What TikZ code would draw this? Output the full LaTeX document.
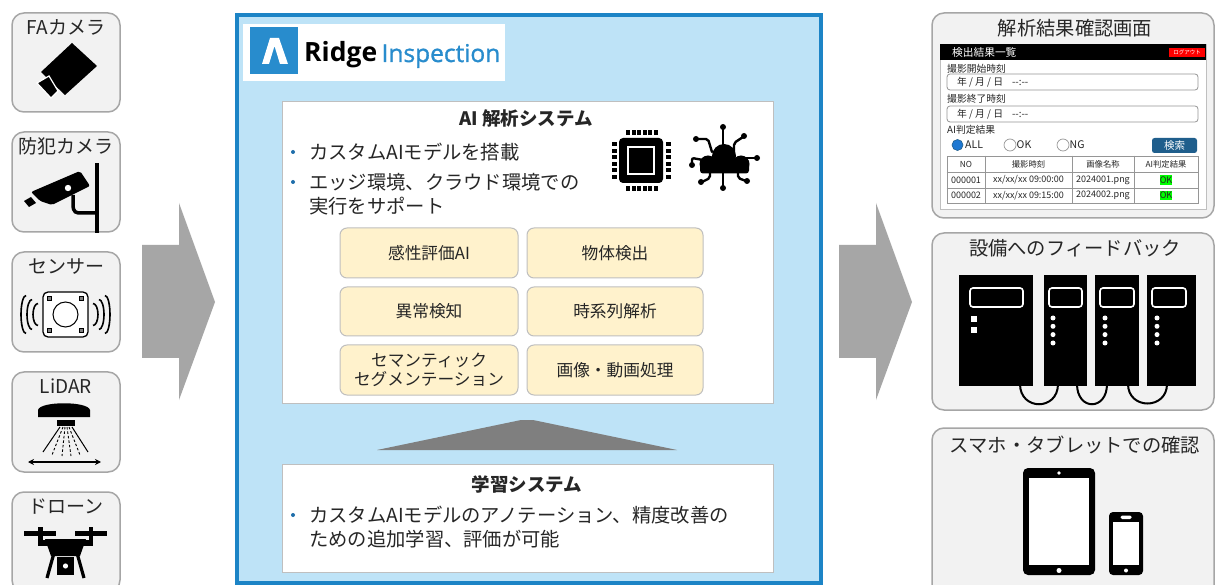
\documentclass[tikz,border=0pt]{standalone}
\usepackage{fontspec}
\setmainfont{Noto Sans CJK JP}
\newfontfamily\logofont{Open Sans}
\newfontfamily\logolight{Open Sans}[FakeBold=1.2]
\usetikzlibrary{fit,calc,arrows.meta}

\definecolor{panelblue}{RGB}{190,227,247}
\definecolor{panelborder}{RGB}{28,132,198}
\definecolor{boxgrey}{RGB}{242,242,242}
\definecolor{boxline}{RGB}{166,166,166}
\definecolor{arrowgrey}{RGB}{166,166,166}
\definecolor{trigrey}{RGB}{127,127,127}
\definecolor{cream}{RGB}{255,242,204}
\definecolor{creamline}{RGB}{191,191,191}
\definecolor{sheetline}{RGB}{191,191,191}
\definecolor{logoblue}{RGB}{40,140,205}
\definecolor{txt}{RGB}{38,38,38}
\definecolor{bulletblue}{RGB}{30,110,170}
\definecolor{btnblue}{RGB}{31,94,140}
\definecolor{radioblue}{RGB}{30,120,210}
\definecolor{tblline}{RGB}{150,150,150}
\definecolor{okgreen}{RGB}{0,255,0}

\tikzset{
  every node/.style={inner sep=0pt, text=txt},
  card/.style={draw=boxline, line width=1.5pt, fill=boxgrey, rounded corners=12pt, inner sep=0pt},
  cardtitle/.style={font=\fontsize{19}{22}\selectfont},
  restitle/.style={font=\fontsize{19.3}{23}\selectfont},
  sheet/.style={draw=sheetline, line width=0.8pt, fill=white, inner sep=0pt},
  heading/.style={font=\bfseries\fontsize{18.5}{21}\selectfont},
  bulletdot/.style={circle, fill=bulletblue, minimum size=4pt, inner sep=0pt},
  bullettext/.style={anchor=west, font=\fontsize{19.3}{23}\selectfont},
  method/.style={draw=creamline, line width=1pt, fill=cream, rounded corners=7pt, inner sep=0pt},
  methodtext/.style={align=center, text=black!85, font=\fontsize{16.7}{19}\selectfont},
  bigarrow/.style={fill=arrowgrey},
  small/.style={anchor=west, font=\fontsize{9.8}{11}\selectfont},
  field/.style={draw=tblline, line width=0.8pt, fill=white, rounded corners=3pt, inner sep=0pt},
  cell/.style={font=\fontsize{9}{10}\selectfont},
  headcell/.style={font=\fontsize{8.3}{10}\selectfont},
  device/.style={fill=black, inner sep=0pt},
}

\begin{document}
\begin{tikzpicture}[x=1pt,y=-1pt]
\useasboundingbox (0,0) rectangle (1216,585);
\fill[white] (0,0) rectangle (1216,585);

% ---------- input devices ----------
\node[card, fit={(12,13) (120,112)}] (fa) {};
\node[card, fit={(12,132) (120,232)}] (cctv) {};
\node[card, fit={(12,252) (120,352)}] (sensor) {};
\node[card, fit={(12,372) (120,472)}] (lidar) {};
\node[card, fit={(12,492) (120,592)}] (drone) {};

\node[cardtitle] (fa-t) at ($(fa.north)+(0,15)$) {FAカメラ};
\node[cardtitle] (cctv-t) at ($(cctv.north)+(0,15)$) {防犯カメラ};
\node[cardtitle] (sensor-t) at ($(sensor.north)+(0,15)$) {センサー};
\node[cardtitle] (lidar-t) at ($(lidar.north)+(0,15)$) {LiDAR};
\node[cardtitle] (drone-t) at ($(drone.north)+(0,15)$) {ドローン};

% FA camera
\fill[black] (72,43) -- (97,66) -- (65,95) -- (41,72) -- cycle;
\filldraw[fill=black, draw=white, line width=1.2pt] (37,83) -- (49,76) -- (58,91) -- (51,98) -- cycle;

% security camera
\fill[black] (95,163) rectangle (99,233);
\draw[line width=3.5pt] (73,195) -- (73,204) .. controls (73,213) and (76,213) .. (82,213) -- (96,213);
\fill[black, rounded corners=2pt] (31,192) -- (80,171) -- (90,186) -- (52,205) -- (40,201) -- cycle;
\fill[white] (68,188) circle (3.2);
\fill[black] (24,201) -- (31,197) -- (36,203) -- (29,207) -- cycle;

% sensor
\filldraw[fill=white, draw=black, line width=1.3pt, rounded corners=5pt] (43,292) rectangle (88,337);
\draw[line width=1pt] (65.5,314.5) circle (12.5);
\foreach \px/\py in {49.5/298.5, 81.5/298.5, 49.5/330.5, 81.5/330.5}
  \filldraw[fill=gray, draw=black, line width=0.5pt] (\px-2,\py-2) rectangle (\px+2,\py+2);
\foreach \cx/\h in {26/19, 32/15, 38/11}
  \draw[line width=1.6pt] (\cx,314.5+\h) arc[start angle=90, end angle=270, x radius=5, y radius=\h];
\foreach \cx/\h in {105/19, 99/15, 93/11}
  \draw[line width=1.6pt] (\cx,314.5-\h) arc[start angle=-90, end angle=90, x radius=5, y radius=\h];

% LiDAR
\fill[black] (38,417) -- (38,410) .. controls (40,401) and (88,401) .. (90,410) -- (90,417) -- cycle;
\fill[black] (57,419.5) rectangle (75,425.5);
\draw[line width=1pt] (60,427) -- (43,452);
\draw[line width=1pt] (72,427) -- (88,452);
\draw[line width=0.9pt, dash pattern=on 2.5pt off 2pt] (63,427) -- (52,455);
\draw[line width=0.9pt, dash pattern=on 2.5pt off 2pt] (65,427) -- (62,456);
\draw[line width=0.9pt, dash pattern=on 2.5pt off 2pt] (67,427) -- (71,456);
\draw[line width=0.9pt, dash pattern=on 2.5pt off 2pt] (69,427) -- (80,455);
\draw[line width=1.2pt, {Stealth[length=6pt,width=6pt]}-{Stealth[length=6pt,width=6pt]}] (28,462) -- (101,462);

% drone
\fill[black] (24,531) rectangle (56,535.5);
\fill[black] (75,531) rectangle (107,535.5);
\fill[black] (38,527) rectangle (42.5,545);
\fill[black] (88.5,527) rectangle (93,545);
\fill[black] (38,540) rectangle (93,546);
\fill[black] (45,539) -- (86,539) -- (80,556) -- (51,556) -- cycle;
\draw[line width=3.2pt] (54,553) -- (47,578);
\draw[line width=3.2pt] (77,553) -- (84,578);
\fill[black] (57,557) rectangle (74,575);
\fill[white] (65.5,566) circle (2.6);

% ---------- arrows into and out of the platform ----------
\fill[bigarrow] (142,245) -- (179,245) -- (179,203) -- (215,302) -- (179,400) -- (179,358) -- (142,358) -- cycle;
\fill[bigarrow] (839,245) -- (876,245) -- (876,203) -- (912,302) -- (876,400) -- (876,358) -- (839,358) -- cycle;

% ---------- platform panel ----------
\node[fit={(237,15) (821,583)}, inner sep=0pt, draw=panelborder, line width=4pt, fill=panelblue] (panel) {};

% logo
\node[fit={(243,24) (505,81)}, inner sep=0pt, fill=white] (logo) {};
\node[fit={(250,27) (298,74)}, inner sep=0pt, fill=logoblue] (logomark) {};
\fill[white] (262,64) -- (270,38) -- (279,38) -- (288,64) -- (280,64) -- (274.5,46) -- (269,64) -- cycle;
\node[anchor=base west, font=\logofont\bfseries\fontsize{26.5}{30}\selectfont, text=black] (ridge) at (304,62) {Ridge};
\node[anchor=base west, font=\logolight\fontsize{24.5}{30}\selectfont, text=logoblue] (insp) at ($(ridge.base east)+(4,0)$) {Inspection};

% analysis system
\node[sheet, fit={(282,101) (773,403)}] (ai) {};
\node[heading] (ai-title) at (526,118) {AI 解析システム};
\node[bulletdot] (ai-d1) at (293,152) {};
\node[bullettext] (ai-l1) at (309,152) {カスタムAIモデルを搭載};
\node[bulletdot] (ai-d2) at (293,182) {};
\node[bullettext] (ai-l2) at (309,182) {エッジ環境、クラウド環境での};
\node[bullettext] (ai-l3) at (309,206) {実行をサポート};

% chip icon
\fill[black, rounded corners=4pt] (619,138) rectangle (663,183);
\draw[white, line width=2.5pt] (628,147) rectangle (654,174);
\foreach \i in {0,...,5} {
  \fill[black] (626+\i*5.6,130) rectangle (630+\i*5.6,135);
  \fill[black] (626+\i*5.6,186) rectangle (630+\i*5.6,191);
  \fill[black] (611.5,142.5+\i*6.5) rectangle (616.5,146.5+\i*6.5);
  \fill[black] (665.5,142.5+\i*6.5) rectangle (670.5,146.5+\i*6.5);
}

% cloud network icon
\fill[black] (724,156) circle (12);
\fill[black] (708,164) circle (8.5);
\fill[black] (741,164) circle (8.5);
\fill[black, rounded corners=3pt] (700,162) rectangle (749,173.5);
\begin{scope}[line width=2.4pt, line cap=round, rounded corners=2pt]
  \draw (723,150) -- (723,128);
  \draw (734,151) -- (734,143) -- (743,137);
  \draw (745,158) -- (756,158);
  \draw (738,172) -- (738,178) -- (746,181);
  \draw (723,172) -- (723,188);
  \draw (710,172) -- (710,178) -- (702,182);
  \draw (712,152) -- (708,139) -- (697,139);
  \draw (703,160) -- (692,158) -- (692,164);
\end{scope}
\foreach \px/\py in {723/127, 744/136, 757/158, 747/181, 723/188, 701/182, 696/139, 692/165}
  \fill[black] (\px,\py) circle (3);

% analysis methods
\node[method, fit={(340,228) (518,278)}] (m1) {};
\node[method, fit={(527,228) (703,278)}] (m2) {};
\node[method, fit={(340,287) (518,336)}] (m3) {};
\node[method, fit={(527,287) (703,336)}] (m4) {};
\node[method, fit={(340,345) (518,395)}] (m5) {};
\node[method, fit={(527,345) (703,395)}] (m6) {};
\node[methodtext] (m1-t) at (m1.center) {感性評価AI};
\node[methodtext] (m2-t) at (m2.center) {物体検出};
\node[methodtext] (m3-t) at (m3.center) {異常検知};
\node[methodtext] (m4-t) at (m4.center) {時系列解析};
\node[methodtext] (m5-t) at (m5.center) {セマンティック\\セグメンテーション};
\node[methodtext] (m6-t) at (m6.center) {画像・動画処理};

% feedback wedge from learning to analysis
\fill[trigrey] (377,450) -- (521,420) -- (533,420) -- (677,450) -- cycle;

% learning system
\node[sheet, fit={(282,464) (773,572)}] (learn) {};
\node[heading] (learn-title) at (527,484) {学習システム};
\node[bulletdot] (learn-d1) at (293,515) {};
\node[bullettext] (learn-l1) at (309,515) {カスタムAIモデルのアノテーション、精度改善の};
\node[bullettext] (learn-l2) at (309,539) {ための追加学習、評価が可能};

% ---------- outputs ----------
\node[card, fit={(932,13) (1214,218)}] (viewer) {};
\node[card, fit={(932,233) (1214,410)}] (feedback) {};
\node[card, fit={(932,428) (1214,600)}] (mobile) {};

\node[restitle] (viewer-t) at (1075,28) {解析結果確認画面};
\node[restitle] (feedback-t) at (1075,248) {設備へのフィードバック};
\node[restitle] (mobile-t) at (1075,445) {スマホ・タブレットでの確認};

% result viewer window
\node[fit={(940,44) (1206,209)}, inner sep=0pt, fill=white, draw=sheetline, line width=0.6pt] (win) {};
\node[fit={(940,44) (1206,60)}, inner sep=0pt, fill=black] (winbar) {};
\node[anchor=west, text=white, font=\fontsize{10.7}{12}\selectfont] (wintitle) at (952,52) {検出結果一覧};
\node[fit={(1169,48) (1205,57)}, inner sep=0pt, fill=red] (logout) {};
\node[text=white, font=\fontsize{5.5}{6}\selectfont] (logout-t) at (logout) {ログアウト};

\node[small] (start-l) at (947,69) {撮影開始時刻};
\node[field, fit={(947,74) (1198,90)}] (start-f) {};
\node[small] (start-v) at (957,82) {年 / 月 / 日\hspace{9pt}-{}-:-{}-};
\node[small] (end-l) at (947,99) {撮影終了時刻};
\node[field, fit={(947,106) (1198,122)}] (end-f) {};
\node[small] (end-v) at (957,114) {年 / 月 / 日\hspace{9pt}-{}-:-{}-};
\node[small] (judge-l) at (947,130) {AI判定結果};

\node[circle, minimum size=11pt, fill=radioblue, draw=btnblue, line width=0.6pt] (r-all) at (957.5,145) {};
\node[anchor=west, font=\fontsize{10.5}{12}\selectfont] (r-all-t) at (965,145) {ALL};
\node[circle, minimum size=12pt, fill=white, draw=tblline, line width=0.7pt] (r-ok) at (1010,145) {};
\node[anchor=west, font=\fontsize{10.5}{12}\selectfont] (r-ok-t) at (1016.5,145) {OK};
\node[circle, minimum size=12pt, fill=white, draw=tblline, line width=0.7pt] (r-ng) at (1063,145) {};
\node[anchor=west, font=\fontsize{10.5}{12}\selectfont] (r-ng-t) at (1069.5,145) {NG};
\node[fit={(1152,138) (1197,153)}, inner sep=0pt, fill=btnblue, rounded corners=2.5pt] (search) {};
\node[text=white, font=\fontsize{10.5}{12}\selectfont] (search-t) at (search) {検索};

\node[fit={(947,156) (1198,203)}, inner sep=0pt, fill=white, draw=tblline, line width=0.7pt] (tbl) {};
\draw[tblline, line width=0.7pt] (tbl.west |- 0,172) -- (tbl.east |- 0,172);
\draw[tblline, line width=0.7pt] (tbl.west |- 0,188) -- (tbl.east |- 0,188);
\foreach \cx in {985,1072,1134}
  \draw[tblline, line width=0.7pt] (\cx,0 |- tbl.north) -- (\cx,0 |- tbl.south);
\node[headcell] (h1) at (966,164) {NO};
\node[headcell] (h2) at (1028.5,164) {撮影時刻};
\node[headcell] (h3) at (1103,164) {画像名称};
\node[headcell] (h4) at (1166,164) {AI判定結果};
\node[cell] (c11) at (966,180) {000001};
\node[cell] (c12) at (1028.5,180) {xx/xx/xx 09:00:00};
\node[cell] (c13) at (1103,180) {2024001.png};
\node[cell, fill=okgreen, inner ysep=1.5pt] (c14) at (1166,180) {OK};
\node[cell] (c21) at (966,195.5) {000002};
\node[cell] (c22) at (1028.5,195.5) {xx/xx/xx 09:15:00};
\node[cell] (c23) at (1103,195.5) {2024002.png};
\node[cell, fill=okgreen, inner ysep=1.5pt] (c24) at (1166,195.5) {OK};

% equipment units
\draw[line width=2pt] (1020,384) .. controls (1020,411) and (1058,411) .. (1058,384);
\draw[line width=2pt] (1077,384) .. controls (1077,411) and (1107,411) .. (1107,384);
\draw[line width=2pt] (1128,384) .. controls (1128,410) and (1167,410) .. (1167,384);
\node[device, fit={(959,275) (1033,386)}] (unit1) {};
\node[device, fit={(1044,275) (1087,386)}] (unit2) {};
\node[device, fit={(1095,275) (1139,386)}] (unit3) {};
\node[device, fit={(1147,275) (1196,386)}] (unit4) {};
\draw[white, line width=1.6pt, rounded corners=3pt] (970,288) rectangle (1023,307);
\draw[white, line width=1.6pt, rounded corners=3pt] (1049,288) rectangle (1082,307);
\draw[white, line width=1.6pt, rounded corners=3pt] (1100,288) rectangle (1134,307);
\draw[white, line width=1.6pt, rounded corners=3pt] (1152,288) rectangle (1186,307);
\fill[white] (971,316) rectangle (977,322);
\fill[white] (971,327) rectangle (977,333);
\foreach \cx in {1053,1105,1157}
  \foreach \cy in {318,326.3,334.6,343}
    \fill[white] (\cx,\cy) circle (2.5);

% tablet and phone
\node[device, rounded corners=5pt, fit={(1023,468) (1095,575)}] (tablet) {};
\fill[white] (1029,478) rectangle (1089,565);
\fill[white] (1059,473) circle (1.8);
\fill[white] (1059,570.5) circle (2.5);
\node[device, rounded corners=4pt, fit={(1109,512) (1143,575)}] (phone) {};
\fill[white] (1113,522) rectangle (1139,565);
\fill[white, rounded corners=1.5pt] (1120.5,515.5) rectangle (1131.5,519);
\fill[white] (1126,570.5) circle (2);

\end{tikzpicture}
\end{document}
